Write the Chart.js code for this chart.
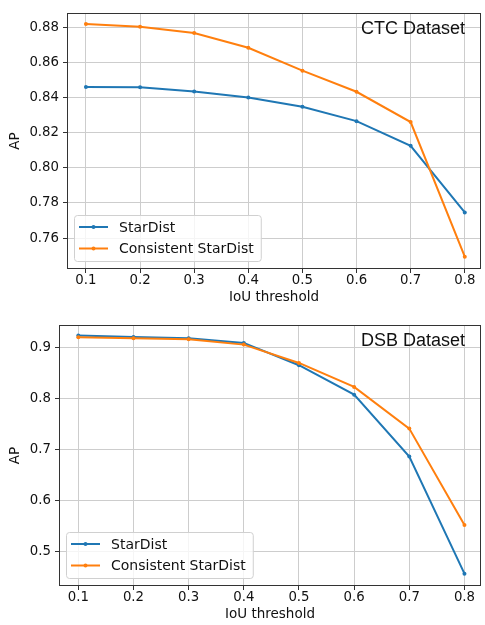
<!DOCTYPE html>
<html>
<head>
<meta charset="utf-8">
<script src="https://cdn.jsdelivr.net/npm/chart.js@4"></script>
<style>
  html, body { margin: 0; padding: 0; background: #fff; }
  #wrap { position: relative; width: 485px; height: 625px; }
  .box { position: absolute; left: 0; width: 485px; }
</style>
</head>
<body>
<div id="wrap">
  <div class="box" style="top:0;height:310px"><canvas id="ctc"></canvas></div>
  <div class="box" style="top:310px;height:315px"><canvas id="dsb"></canvas></div>
</div>
<script>
// IoU thresholds (x axis)
const thresholds = [0.1, 0.2, 0.3, 0.4, 0.5, 0.6, 0.7, 0.8];

// CTC dataset AP
const ctcStarDist   = [0.8459, 0.8457, 0.8434, 0.8400, 0.8347, 0.8265, 0.8125, 0.7746];
const ctcConsistent = [0.8817, 0.8802, 0.8766, 0.8682, 0.8552, 0.8432, 0.8260, 0.7494];

// DSB dataset AP
const dsbStarDist   = [0.9242, 0.9216, 0.9190, 0.9098, 0.8660, 0.8083, 0.6866, 0.4568];
const dsbConsistent = [0.9210, 0.9190, 0.9170, 0.9065, 0.8705, 0.8234, 0.7416, 0.5524];

// tick labels
const ctcYTicks = [0.76, 0.78, 0.80, 0.82, 0.84, 0.86, 0.88];
const dsbYTicks = [0.5, 0.6, 0.7, 0.8, 0.9];

const seriesNames = ["StarDist", "Consistent StarDist"];
const BLUE = "#1f77b4";
const ORANGE = "#ff7f0e";
const TICK_FONT = { family: "'DejaVu Sans'", size: 13.3 };
const TEXT = "#111";

// axes frame, dataset name in the corner and a boxed legend inside the plot
const frameAndLabels = {
  id: "frameAndLabels",
  afterDatasetsDraw(chart, args, opts) {
    const { ctx, chartArea: a } = chart;
    ctx.save();
    ctx.strokeStyle = "#333";
    ctx.lineWidth = 1;
    ctx.strokeRect(Math.round(a.left) + 0.5, Math.round(a.top) + 0.5,
      Math.round(a.right - a.left) - 1, Math.round(a.bottom - a.top) - 1);

    ctx.fillStyle = "#111";
    ctx.font = "18px 'Liberation Sans', Arial, sans-serif";
    ctx.textAlign = "right";
    ctx.textBaseline = "middle";
    ctx.fillText(opts.title, a.right - 16, a.top + 16);

    // legend
    ctx.font = "14px 'DejaVu Sans'";
    ctx.textAlign = "left";
    const sets = chart.data.datasets;
    let tw = 0;
    sets.forEach(d => { tw = Math.max(tw, ctx.measureText(d.label).width); });
    const w = 45 + tw + 7, h = 46;
    const lx = a.left + 7, ly = a.bottom - 8 - h;
    ctx.beginPath();
    ctx.roundRect(lx + 0.5, ly + 0.5, w, h, 3);
    ctx.fillStyle = "rgba(255,255,255,0.8)";
    ctx.fill();
    ctx.strokeStyle = "#d0d0d0";
    ctx.stroke();
    sets.forEach((d, i) => {
      const y = ly + 12 + i * 21.5;
      ctx.strokeStyle = d.borderColor;
      ctx.lineWidth = 2;
      ctx.beginPath();
      ctx.moveTo(lx + 5, y);
      ctx.lineTo(lx + 34, y);
      ctx.stroke();
      ctx.fillStyle = d.borderColor;
      ctx.beginPath();
      ctx.arc(lx + 19.5, y, 2, 0, Math.PI * 2);
      ctx.fill();
      ctx.fillStyle = TEXT;
      ctx.fillText(d.label, lx + 45, y + 1);
    });
    ctx.restore();
  }
};

function series(label, ys, color, order) {
  return {
    label: label,
    data: thresholds.map((x, i) => ({ x: x, y: ys[i] })),
    borderColor: color,
    backgroundColor: color,
    pointBackgroundColor: color,
    borderWidth: 2,
    pointRadius: 2,
    pointBorderWidth: 0,
    tension: 0,
    order: order
  };
}

function makeChart(id, sd, cs, s) {
  const ctx = document.getElementById(id).getContext("2d");
  return new Chart(ctx, {
    type: "line",
    data: {
      datasets: [series(seriesNames[0], sd, BLUE, 1), series(seriesNames[1], cs, ORANGE, 0)]
    },
    options: {
      responsive: true,
      maintainAspectRatio: false,
      animation: false,
      layout: { padding: { top: s.padTop, right: 1, left: 0, bottom: 0 } },
      plugins: {
        legend: { display: false },
        tooltip: { enabled: false },
        frameAndLabels: { title: s.title }
      },
      scales: {
        x: {
          type: "linear",
          min: 0.065,
          max: 0.83,
          afterBuildTicks: sc => { sc.ticks = thresholds.map(v => ({ value: v })); },
          afterFit: sc => { sc.height = s.xHeight; },
          ticks: {
            callback: v => v.toFixed(1),
            font: TICK_FONT, color: TEXT, padding: 0,
            maxRotation: 0, autoSkip: false
          },
          grid: { color: "#cdcdcd", tickColor: "#333", tickLength: 4 },
          border: { display: false },
          title: {
            display: true, text: "IoU threshold", color: TEXT,
            font: { family: "'DejaVu Sans'", size: 13.5 },
            padding: { top: 0, bottom: s.xTitlePad }
          }
        },
        y: {
          type: "linear",
          min: s.yMin,
          max: s.yMax,
          afterBuildTicks: sc => { sc.ticks = s.yTicks.map(v => ({ value: v })); },
          afterFit: sc => { sc.width = s.yWidth; },
          ticks: {
            callback: v => v.toFixed(s.dec),
            font: TICK_FONT, color: TEXT, padding: 4
          },
          grid: { color: "#cdcdcd", tickColor: "#333", tickLength: 4 },
          border: { display: false },
          title: {
            display: true, text: "AP", color: TEXT,
            font: { family: "'DejaVu Sans'", size: 13.5 },
            padding: { top: 7, bottom: 0 }
          }
        }
      }
    },
    plugins: [frameAndLabels]
  });
}

makeChart("ctc", ctcStarDist, ctcConsistent, {
  title: "CTC Dataset", padTop: 13, xHeight: 41, xTitlePad: 4, yWidth: 67,
  yMin: 0.7424, yMax: 0.888, yTicks: ctcYTicks, dec: 2
});
makeChart("dsb", dsbStarDist, dsbConsistent, {
  title: "DSB Dataset", padTop: 15, xHeight: 39, xTitlePad: 2, yWidth: 59,
  yMin: 0.4326, yMax: 0.945, yTicks: dsbYTicks, dec: 1
});
</script>
</body>
</html>
